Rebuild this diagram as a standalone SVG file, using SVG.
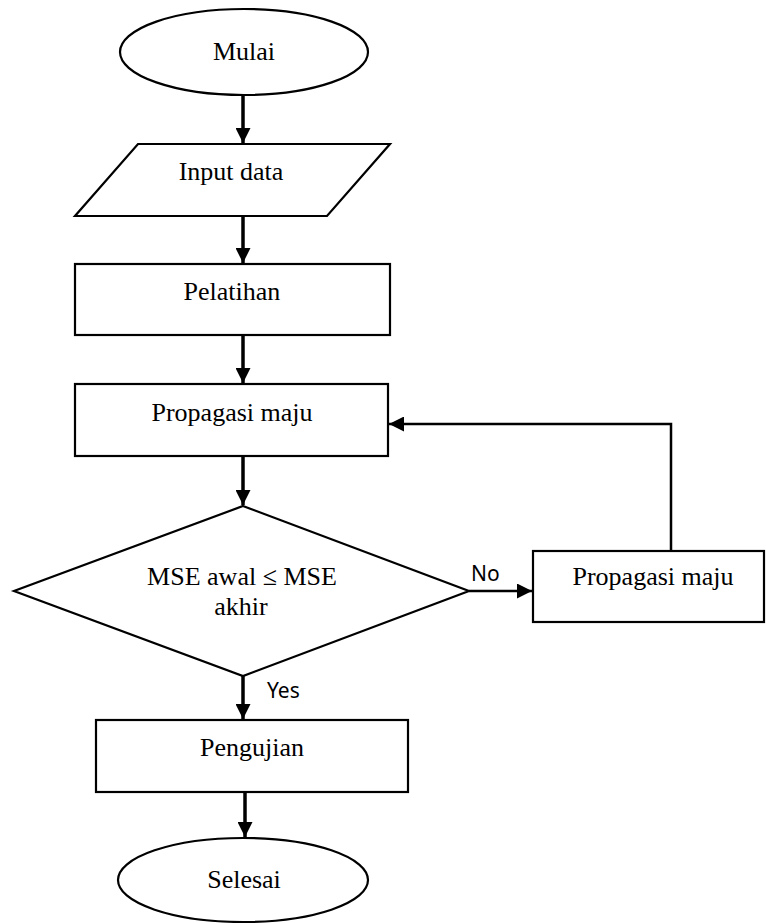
<svg xmlns="http://www.w3.org/2000/svg" width="766" height="923" viewBox="0 0 766 923">
<style>
.s{fill:#fff;stroke:#000;stroke-width:2.2}
.t{font-family:"Liberation Serif","Times New Roman",serif;font-size:26px;fill:#000;text-anchor:middle}
.l{font-family:"Noto Sans","Open Sans",sans-serif;font-size:21px;fill:#000}
.c{fill:none;stroke:#000;stroke-width:3.5}
.c2{fill:none;stroke:#000;stroke-width:2.5}
</style>
<defs>
<marker id="ah" viewBox="0 0 10 10" refX="10" refY="5" markerUnits="userSpaceOnUse" markerWidth="15" markerHeight="15" orient="auto">
<path d="M0,0 L10,5 L0,10 Z" fill="#000"/>
</marker>
</defs>
<g id="connectors">
<line class="c" x1="243" y1="96" x2="243" y2="143" marker-end="url(#ah)"/>
<line class="c" x1="243" y1="217" x2="243" y2="263" marker-end="url(#ah)"/>
<line class="c" x1="243" y1="336" x2="243" y2="383" marker-end="url(#ah)"/>
<line class="c" x1="243" y1="457" x2="243" y2="505" marker-end="url(#ah)"/>
<line class="c" x1="243" y1="676" x2="243" y2="719" marker-end="url(#ah)"/>
<line class="c" x1="245" y1="793" x2="245" y2="837" marker-end="url(#ah)"/>
<line class="c2" x1="469" y1="591" x2="532" y2="591" marker-end="url(#ah)"/>
<polyline class="c2" points="671,550 671,424 389,424" marker-end="url(#ah)"/>
<text class="l" x="471" y="581">No</text>
<text class="l" x="267" y="698">Yes</text>
</g>
<g id="mulai">
<ellipse class="s" cx="244" cy="52" rx="124" ry="43"/>
<text class="t" x="244" y="60">Mulai</text>
</g>
<g id="input">
<polygon class="s" points="138,144 390,144 327,216 75,216"/>
<text class="t" x="231" y="180">Input data</text>
</g>
<g id="pelatihan">
<rect class="s" x="75" y="264" width="315" height="71"/>
<text class="t" x="232" y="300">Pelatihan</text>
</g>
<g id="propagasi1">
<rect class="s" x="75" y="384" width="313" height="72"/>
<text class="t" x="232" y="421">Propagasi maju</text>
</g>
<g id="decision">
<polygon class="s" points="243,506 469,591 243,676 14,591"/>
<text class="t" x="242" y="585">MSE awal ≤ MSE</text>
<text class="t" x="241" y="615">akhir</text>
</g>
<g id="propagasi2">
<rect class="s" x="533" y="551" width="231" height="71"/>
<text class="t" x="653" y="585">Propagasi maju</text>
</g>
<g id="pengujian">
<rect class="s" x="96" y="720" width="312" height="72"/>
<text class="t" x="252" y="756">Pengujian</text>
</g>
<g id="selesai">
<ellipse class="s" cx="243" cy="880" rx="125" ry="42"/>
<text class="t" x="244" y="888">Selesai</text>
</g>
</svg>
